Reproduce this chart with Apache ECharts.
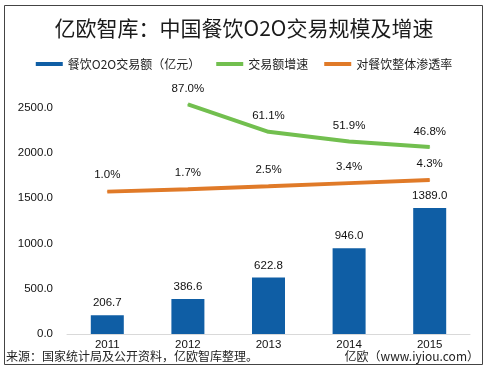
<!DOCTYPE html>
<html>
<head>
<meta charset="utf-8">
<script src="https://cdn.jsdelivr.net/npm/echarts@6/dist/echarts.min.js"></script>
<style>
html,body{margin:0;padding:0;background:#fff;}
#main{width:488px;height:370px;}
</style>
</head>
<body>
<div id="main"></div>
<script>
var years = ['2011', '2012', '2013', '2014', '2015'];
var volume = [206.7, 386.6, 622.8, 946.0, 1389.0];
var growth = [null, 87.0, 61.1, 51.9, 46.8];
var penetration = [1.0, 1.7, 2.5, 3.4, 4.3];
var yTicks = [0, 500, 1000, 1500, 2000, 2500];
var seriesNames = ['餐饮O2O交易额（亿元）', '交易额增速', '对餐饮整体渗透率'];
var titleText = '亿欧智库：中国餐饮O2O交易规模及增速';
var sourceText = '来源：国家统计局及公开资料，亿欧智库整理。';
var siteText = '亿欧（www.iyiou.com）';

var cjk = '"Noto Sans CJK SC", sans-serif';
var num = '"Liberation Sans", Arial, sans-serif';
var chart = echarts.init(document.getElementById('main'), null, {renderer: 'canvas'});
chart.setOption({
  animation: false,
  backgroundColor: '#fff',
  title: {
    text: titleText, left: 'center', top: 13,
    textStyle: {fontFamily: cjk, fontSize: 21, fontWeight: 'normal', color: '#1a1a1a'}
  },
  legend: {
    top: 53, left: 'center', itemGap: 16, itemWidth: 27, itemHeight: 4,
    textStyle: {fontFamily: cjk, fontSize: 12, color: '#222'},
    data: [
      {name: seriesNames[0], icon: 'rect'},
      {name: seriesNames[1], icon: 'rect'},
      {name: seriesNames[2], icon: 'rect'}
    ]
  },
  grid: {left: 67, right: 18, top: 62, bottom: 36, containLabel: false},
  xAxis: {
    type: 'category', data: years,
    axisLine: {lineStyle: {color: '#d9d9d9', width: 1}},
    axisTick: {show: false},
    axisLabel: {fontFamily: num, fontSize: 11.5, color: '#111', margin: 5}
  },
  yAxis: [
    {
      type: 'value', min: 0, max: 3000, interval: 500,
      splitLine: {show: false}, axisLine: {show: false}, axisTick: {show: false},
      axisLabel: {
        fontFamily: num, fontSize: 11.5, color: '#111', margin: 14,
        formatter: function (v) { return yTicks.indexOf(v) >= 0 ? v.toFixed(1) : ''; }
      }
    },
    {type: 'value', show: false, min: -129.3, max: 126.8, splitLine: {show: false}},
    {type: 'value', show: false, min: -39.2, max: 37.6, splitLine: {show: false}}
  ],
  series: [
    {
      name: seriesNames[0], type: 'bar', data: volume, barWidth: 33,
      itemStyle: {color: '#0f5ea5'},
      label: {show: true, position: 'top', distance: 6, fontFamily: num, fontSize: 11.5, color: '#111',
        formatter: function (p) { return p.value.toFixed(1); }}
    },
    {
      name: seriesNames[1], type: 'line', yAxisIndex: 1, data: growth,
      symbol: 'circle', symbolSize: 1, showSymbol: true,
      lineStyle: {color: '#72bf4f', width: 4}, itemStyle: {color: '#72bf4f'},
      label: {show: true, position: 'top', distance: 9, fontFamily: num, fontSize: 11.5, color: '#111',
        formatter: function (p) { return p.value.toFixed(1) + '%'; }}
    },
    {
      name: seriesNames[2], type: 'line', yAxisIndex: 2, data: penetration,
      symbol: 'circle', symbolSize: 1, showSymbol: true,
      lineStyle: {color: '#e07a28', width: 4}, itemStyle: {color: '#e07a28'},
      label: {show: true, position: 'top', distance: 10, fontFamily: num, fontSize: 11.5, color: '#111',
        formatter: function (p) { return p.value.toFixed(1) + '%'; }}
    }
  ],
  graphic: [
    {type: 'rect', shape: {x: 4.5, y: 5.5, width: 478, height: 359}, style: {fill: 'none', stroke: '#444', lineWidth: 1}, z: 10},
    {type: 'text', left: 6, top: 350, style: {text: sourceText, font: '12px ' + cjk, fill: '#222'}},
    {type: 'text', right: 9, top: 350, style: {text: siteText, font: '12px ' + cjk, fill: '#222'}}
  ]
});
</script>
</body>
</html>
